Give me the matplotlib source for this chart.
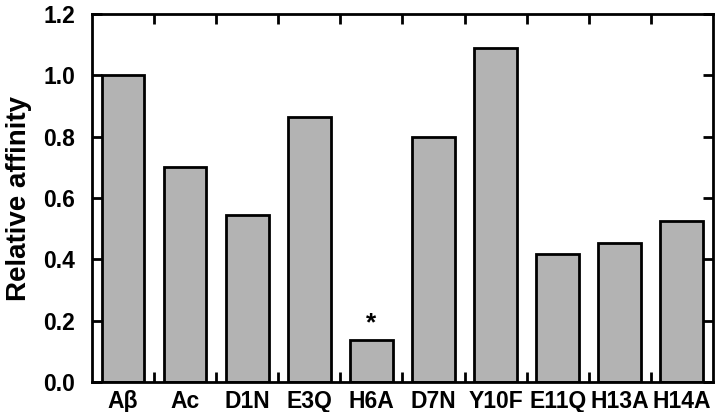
import matplotlib
matplotlib.use("Agg")
import matplotlib.pyplot as plt
import numpy as np

categories = ["Aβ", "Ac", "D1N", "E3Q", "H6A", "D7N", "Y10F", "E11Q", "H13A", "H14A"]
values = [1.00, 0.70, 0.545, 0.865, 0.137, 0.80, 1.09, 0.416, 0.454, 0.525]
yticks = [0.0, 0.2, 0.4, 0.6, 0.8, 1.0, 1.2]
ytick_labels = ["0.0", "0.2", "0.4", "0.6", "0.8", "1.0", "1.2"]
star_index = 4

plt.rcParams['font.family'] = ['Liberation Sans', 'DejaVu Sans']
plt.rcParams['font.weight'] = 'bold'

fig = plt.figure(figsize=(7.18, 4.12), dpi=100)
ax = fig.add_axes([0.128, 0.0728, 0.865, 0.893])

x = np.arange(len(categories))
ax.bar(x, values, width=0.69, color='#b3b3b3', edgecolor='black', linewidth=2.0, zorder=2)

ax.text(star_index, values[star_index] + 0.015, "*", ha='center', va='bottom',
        fontsize=19, fontweight='bold')

ax.set_xlim(-0.5, len(categories) - 0.5)
ax.set_ylim(0, 1.2)

ax.set_xticks(x)
ax.set_xticklabels(categories, fontsize=16.5, fontweight='bold')
ax.set_xticks(np.arange(len(categories) - 1) + 0.5, minor=True)
ax.tick_params(axis='x', which='major', length=0, pad=6)
ax.tick_params(axis='x', which='minor', direction='in', length=7, width=2, top=True, bottom=True)

ax.set_yticks(yticks)
ax.set_yticklabels(ytick_labels, fontsize=16.5, fontweight='bold')
ax.tick_params(axis='y', which='major', direction='in', length=7, width=2, left=True, right=True, pad=12)

for s in ax.spines.values():
    s.set_linewidth(2)
    s.set_zorder(3)

ax.set_ylabel("Relative affinity", fontsize=20, fontweight='bold', labelpad=8)

fig.savefig("out.png", dpi=100)
